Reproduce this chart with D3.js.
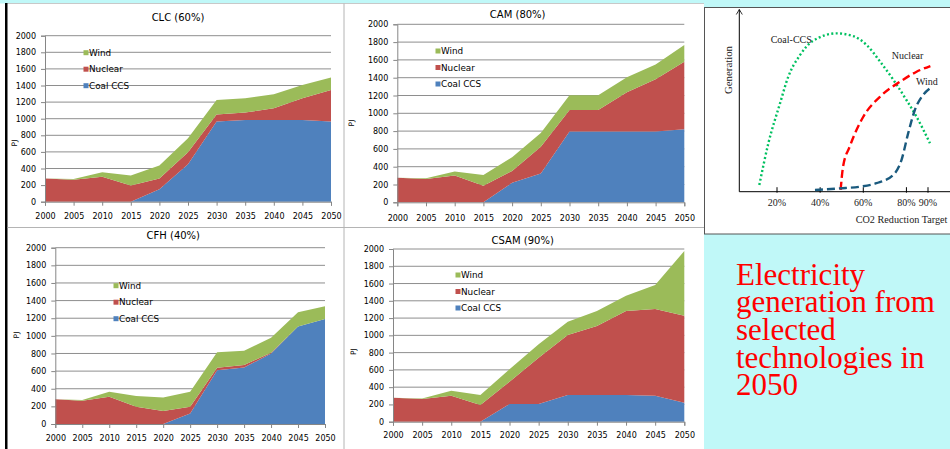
<!DOCTYPE html>
<html>
<head>
<meta charset="utf-8">
<script src="https://cdn.jsdelivr.net/npm/d3@7"></script>
<style>
  body { margin: 0; background: #c0f8f8; overflow: hidden; }
  svg { display: block; }
</style>
</head>
<body>
<div id="slide"></div>
<script>
// stacked area data, PJ
var years = [2000, 2005, 2010, 2015, 2020, 2025, 2030, 2035, 2040, 2045, 2050];
var yTicks = [0, 200, 400, 600, 800, 1000, 1200, 1400, 1600, 1800, 2000];
var seriesNames = ["Coal CCS", "Nuclear", "Wind"];
var seriesColors = ["#4f81bd", "#c0504d", "#9bbb59"];

var clcCoal    = [0, 0, 0, 0, 150, 450, 965, 985, 985, 985, 965];
var clcNuclear = [280, 265, 300, 195, 130, 145, 85, 90, 140, 260, 380];
var clcWind    = [0, 8, 55, 120, 155, 170, 175, 170, 170, 160, 150];

var camCoal    = [0, 0, 0, 0, 220, 325, 795, 795, 795, 795, 820];
var camNuclear = [277, 262, 300, 187, 132, 300, 242, 242, 441, 587, 760];
var camWind    = [0, 8, 45, 120, 154, 154, 165, 165, 168, 165, 188];

var cfhCoal    = [0, 0, 0, 0, 0, 120, 610, 640, 800, 1105, 1190];
var cfhNuclear = [280, 265, 310, 197, 147, 77, 29, 29, 9, 0, 0];
var cfhWind    = [0, 7, 57, 121, 155, 170, 174, 163, 170, 163, 147];

var csamCoal    = [0, 0, 0, 0, 205, 205, 310, 310, 310, 300, 220];
var csamNuclear = [278, 262, 300, 193, 258, 536, 694, 798, 972, 1005, 1008];
var csamWind    = [0, 8, 59, 116, 143, 155, 154, 174, 177, 278, 749];

// sketch on the right: generation vs CO2 reduction target
var targetTicks = [20, 40, 60, 80, 90];
var coalCcsCurve = [[11.8, 3.8], [16, 27.4], [21.4, 50], [25.2, 65], [30.5, 77], [36.8, 85.5], [47.7, 89.6],
                    [55.4, 88], [61.6, 83], [67.8, 73.6], [74, 63.2], [80, 51.9], [84.7, 42.4], [90.9, 27.4]];
var nuclearCurve = [[49.5, 1], [50.6, 14], [53.7, 25.5], [60, 42.4], [67.8, 53.8], [77.1, 62.3], [84.7, 67.9], [91.1, 71.1]];
var windCurve = [[37.6, 1], [49.1, 1.9], [58.3, 2.8], [66.1, 4.8], [73.9, 9.5], [77.7, 17.9], [80.8, 33],
                 [83.9, 46.2], [87.7, 54.7], [90.9, 58.5]];

var noteLines = ["Electricity", "generation from", "selected", "technologies in", "2050"];

var W = 950, H = 449;
var svg = d3.select("#slide").append("svg")
    .attr("width", W)
    .attr("height", H);

// slide backgrounds
svg.append("rect").attr("x", 0).attr("y", 0).attr("width", W).attr("height", H).attr("fill", "#c0f8f8");
svg.append("rect").attr("x", 0).attr("y", 3.5).attr("width", 704).attr("height", H).attr("fill", "#ffffff");
svg.append("line").attr("x1", 7).attr("x2", 704).attr("y1", 3.5).attr("y2", 3.5).attr("stroke", "#c8c8c8");
svg.append("rect").attr("x", 5).attr("y", 3).attr("width", 2.5).attr("height", H).attr("fill", "#000");
svg.append("line").attr("x1", 344).attr("x2", 344).attr("y1", 3.5).attr("y2", H).attr("stroke", "#b4b4b4");
svg.append("line").attr("x1", 7.5).attr("x2", 704).attr("y1", 227.5).attr("y2", 227.5).attr("stroke", "#b4b4b4");

var panels = [
  {title: "CLC (60%)", coal: clcCoal, nuclear: clcNuclear, wind: clcWind,
   left: 45, right: 331, top: 35.7, bottom: 201.7, titleX: 178, titleY: 17,
   legX: 86, legY: 52.7, pjX: 14, pjY: 143, xLabY: 216.7},
  {title: "CAM (80%)", coal: camCoal, nuclear: camNuclear, wind: camWind,
   left: 397.3, right: 684.3, top: 24.3, bottom: 202.3, titleX: 517.7, titleY: 14,
   legX: 438, legY: 51, pjX: 351, pjY: 123, xLabY: 218.3},
  {title: "CFH (40%)", coal: cfhCoal, nuclear: cfhNuclear, wind: cfhWind,
   left: 55.3, right: 325, top: 247.7, bottom: 424, titleX: 173.3, titleY: 235.7,
   legX: 116, legY: 285.7, pjX: 16, pjY: 335, xLabY: 438},
  {title: "CSAM (90%)", coal: csamCoal, nuclear: csamNuclear, wind: csamWind,
   left: 393, right: 684.3, top: 249, bottom: 421.7, titleX: 522.7, titleY: 240.7,
   legX: 458, legY: 275, pjX: 353, pjY: 351.7, xLabY: 435.7}
];

function drawPanel(p) {
  var rows = years.map(function(yr, i) {
    return {year: yr, "Coal CCS": p.coal[i], "Nuclear": p.nuclear[i], "Wind": p.wind[i]};
  });
  var stacked = d3.stack().keys(seriesNames)(rows);

  var x = d3.scaleLinear().domain([2000, 2050]).range([p.left, p.right]);
  var y = d3.scaleLinear().domain([0, 2000]).range([p.bottom, p.top]);

  var g = svg.append("g");

  // gridlines
  g.selectAll(".grid").data(yTicks.slice(1)).enter().append("line")
    .attr("x1", p.left).attr("x2", p.right)
    .attr("y1", function(d) { return y(d); }).attr("y2", function(d) { return y(d); })
    .attr("stroke", "#8e8e8e").attr("stroke-width", 1);

  var area = d3.area()
    .x(function(d) { return x(d.data.year); })
    .y0(function(d) { return y(d[0]); })
    .y1(function(d) { return y(d[1]); });

  g.selectAll(".layer").data(stacked).enter().append("path")
    .attr("d", area)
    .attr("fill", function(d, i) { return seriesColors[i]; });

  var yAxis = g.append("g")
    .attr("transform", "translate(" + p.left + ",0)")
    .call(d3.axisLeft(y).tickValues(yTicks).tickFormat(d3.format("d"))
      .tickSize(4).tickPadding(5));
  var xAxis = g.append("g")
    .attr("transform", "translate(0," + p.bottom + ")")
    .call(d3.axisBottom(x).tickValues(years).tickFormat(d3.format("d"))
      .tickSize(4).tickPadding(p.xLabY - p.bottom - 7));
  [yAxis, xAxis].forEach(function(a) {
    a.select(".domain").attr("stroke", "#868686");
    a.selectAll(".tick line").attr("stroke", "#868686");
    a.selectAll("text").attr("font-family", "DejaVu Sans, Verdana, sans-serif")
      .attr("font-size", 8).attr("fill", "#000");
  });

  g.append("text")
    .attr("x", p.titleX).attr("y", p.titleY).attr("dy", "0.35em")
    .attr("text-anchor", "middle")
    .attr("font-family", "DejaVu Sans, Verdana, sans-serif").attr("font-size", 10)
    .text(p.title);

  g.append("text")
    .attr("transform", "translate(" + p.pjX + "," + p.pjY + ") rotate(-90)")
    .attr("text-anchor", "middle").attr("dy", "0.35em")
    .attr("font-family", "DejaVu Sans, Verdana, sans-serif").attr("font-size", 7.5)
    .text("PJ");

  // legend: Wind, Nuclear, Coal CCS from top
  var legendOrder = [2, 1, 0];
  legendOrder.forEach(function(k, i) {
    var ly = p.legY + i * 16.5;
    g.append("rect")
      .attr("x", p.legX - 2.5).attr("y", ly - 2.5)
      .attr("width", 5).attr("height", 5)
      .attr("fill", seriesColors[k]);
    g.append("text")
      .attr("x", p.legX + 3).attr("y", ly).attr("dy", "0.35em")
      .attr("font-family", "DejaVu Sans, Verdana, sans-serif").attr("font-size", 8.8)
      .text(seriesNames[k]);
  });
}

panels.forEach(drawPanel);

// right hand sketch
svg.append("rect").attr("x", 704.5).attr("y", 7.5).attr("width", 260).attr("height", 226.5)
  .attr("fill", "#fff").attr("stroke", "#555").attr("stroke-width", 1);

var xs = d3.scaleLinear().domain([20, 90]).range([777, 928]);
var ys = d3.scaleLinear().domain([0, 100]).range([191.7, 15]);
var ax0 = 739.3;

svg.append("line").attr("x1", ax0).attr("x2", 960).attr("y1", ys(0)).attr("y2", ys(0))
  .attr("stroke", "#000").attr("stroke-width", 1);
svg.append("line").attr("x1", ax0).attr("x2", ax0).attr("y1", ys(0)).attr("y2", 9.5)
  .attr("stroke", "#000").attr("stroke-width", 1);
svg.append("path").attr("d", "M" + (ax0 - 3) + ",14.5L" + ax0 + ",9.5L" + (ax0 + 3) + ",14.5")
  .attr("fill", "none").attr("stroke", "#000").attr("stroke-width", 0.8);

svg.selectAll(".ttick").data(targetTicks).enter().append("line")
  .attr("x1", function(d) { return xs(d); }).attr("x2", function(d) { return xs(d); })
  .attr("y1", ys(0) - 4.5).attr("y2", ys(0) + 1)
  .attr("stroke", "#000");
svg.selectAll(".tlab").data(targetTicks).enter().append("text")
  .attr("x", function(d) { return xs(d); }).attr("y", 205.5)
  .attr("text-anchor", "middle")
  .attr("font-family", "Liberation Serif, Times New Roman, serif").attr("font-size", 10)
  .attr("fill", "#222")
  .text(function(d) { return d + "%"; });

svg.append("text").attr("x", 855.7).attr("y", 222.5)
  .attr("font-family", "Liberation Serif, Times New Roman, serif").attr("font-size", 10.2)
  .attr("fill", "#222")
  .text("CO2 Reduction Target");
svg.append("text")
  .attr("transform", "translate(728.3,70) rotate(-90)")
  .attr("text-anchor", "middle").attr("dy", "0.35em")
  .attr("font-family", "Liberation Serif, Times New Roman, serif").attr("font-size", 10.8)
  .attr("fill", "#222")
  .text("Generation");

var sketchLine = d3.line()
  .x(function(d) { return xs(d[0]); })
  .y(function(d) { return ys(d[1]); })
  .curve(d3.curveMonotoneX);

svg.append("path").attr("d", sketchLine(coalCcsCurve))
  .attr("fill", "none").attr("stroke", "#00c060").attr("stroke-width", 2.4)
  .attr("stroke-dasharray", "2,2.4");
svg.append("path").attr("d", sketchLine(nuclearCurve))
  .attr("fill", "none").attr("stroke", "#ff0000").attr("stroke-width", 2.4)
  .attr("stroke-dasharray", "8,4");
svg.append("path").attr("d", sketchLine(windCurve))
  .attr("fill", "none").attr("stroke", "#1a5a7e").attr("stroke-width", 2.4)
  .attr("stroke-dasharray", "8,4");

var sketchLabels = [
  {text: "Coal-CCS", x: 770.7, y: 42.5},
  {text: "Nuclear", x: 891.7, y: 58.5},
  {text: "Wind", x: 916, y: 84.5}
];
svg.selectAll(".slab").data(sketchLabels).enter().append("text")
  .attr("x", function(d) { return d.x; }).attr("y", function(d) { return d.y; })
  .attr("font-family", "Liberation Serif, Times New Roman, serif").attr("font-size", 10)
  .attr("fill", "#222")
  .text(function(d) { return d.text; });

// red note
svg.append("text")
  .attr("font-family", "Liberation Serif, Times New Roman, serif").attr("font-size", 31)
  .attr("fill", "#ff0000")
  .selectAll("tspan").data(noteLines).enter().append("tspan")
  .attr("x", 736)
  .attr("y", function(d, i) { return 284.5 + i * 27.7; })
  .text(function(d) { return d; });
</script>
</body>
</html>
